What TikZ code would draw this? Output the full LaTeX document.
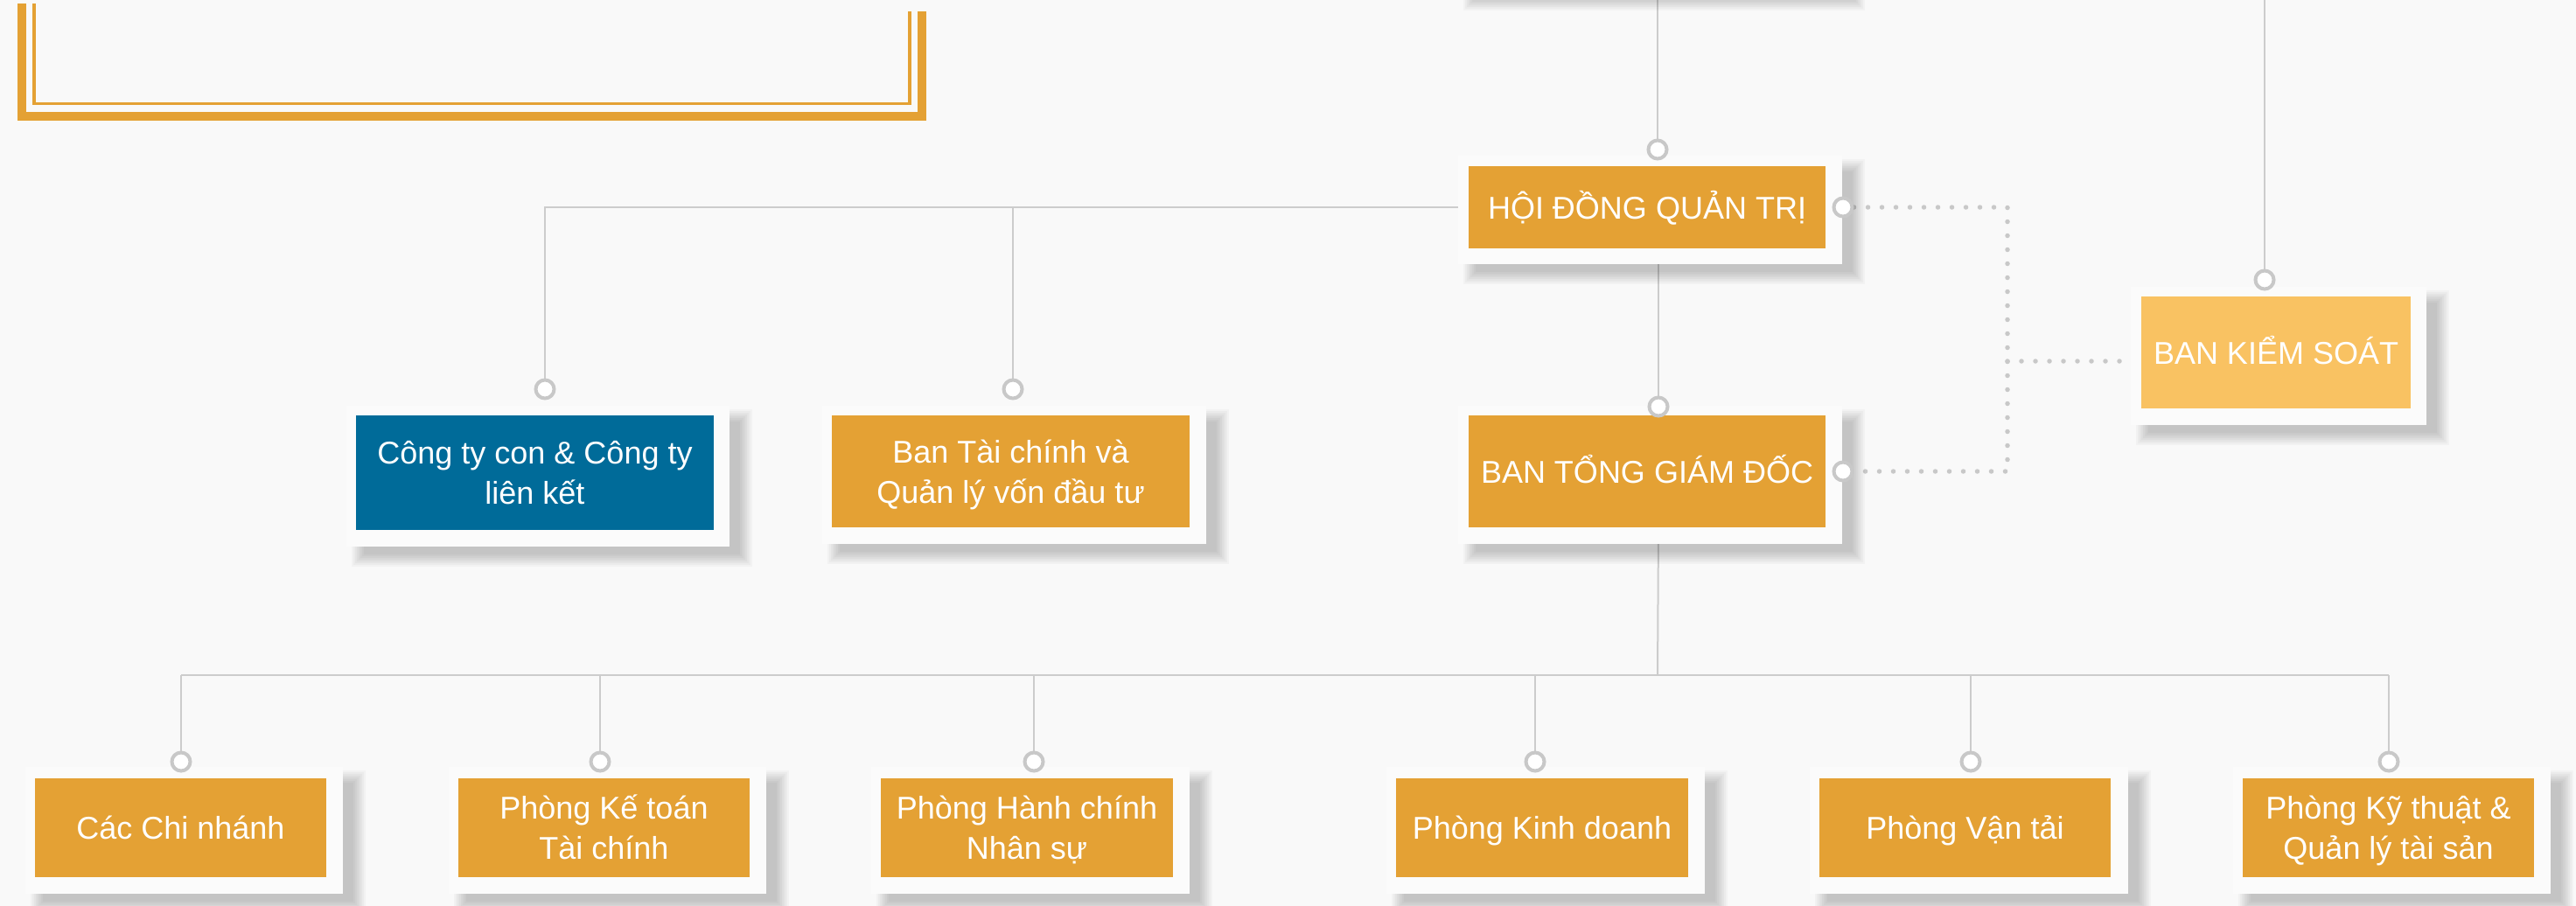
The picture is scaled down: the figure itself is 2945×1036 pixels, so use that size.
\documentclass[tikz,border=0pt]{standalone}
\usepackage{fontspec}
\setmainfont{Liberation Sans}
\definecolor{bgc}{HTML}{F9F9F9}
\definecolor{orng}{HTML}{E4A134}
\definecolor{lorng}{HTML}{F9C262}
\definecolor{blu}{HTML}{006B99}
\definecolor{lnc}{HTML}{CCCCCC}
\definecolor{ringc}{HTML}{C8C8C8}
\definecolor{cardc}{HTML}{FBFBFB}
\pgfdeclarelayer{back}
\pgfdeclarelayer{lines}
\pgfdeclarelayer{cards}
\pgfsetlayers{back,lines,cards,main}
\newcommand{\mycard}[4]{%
  \foreach \k in {0,...,7}{%
    \fill[black,opacity=0.028] ({#1+6+2*\k},{#2+4+2*\k}) rectangle ({#3+26-2*\k},{#4+23-2*\k});
  }%
  \fill[cardc] (#1,#2) rectangle (#3,#4);
}
\begin{document}
\begin{tikzpicture}[x=1pt,y=-1pt,
  conn/.style={draw=lnc, line width=2pt},
  dots/.style={draw=ringc, line width=5.5pt, line cap=round, dash pattern=on 0pt off 16pt},
  ring/.style={circle, draw=ringc, fill=white, line width=4pt, minimum size=21pt, inner sep=0pt},
  box/.style={inner sep=0pt, fill=orng, text=white, align=center,
    font=\fontsize{36}{46}\selectfont, text height=26pt, text depth=0pt},
  box2/.style={box, text height=72pt, text depth=0pt},
  wide/.style={minimum width=408pt},
  narrow/.style={minimum width=333pt, minimum height=113pt}
]
\useasboundingbox (0,0) rectangle (2945,1036);
\begin{pgfonlayer}{back}
\fill[bgc] (0,0) rectangle (2945,1036);
\draw[orng, line width=10pt] (25,4) -- (25,132.5) -- (1054,132.5) -- (1054,13);
\draw[orng, line width=3.5pt] (39,4) -- (39,118.5) -- (1040,118.5) -- (1040,13);
\end{pgfonlayer}
\clip (0,0) rectangle (2945,1036);

% boxes
\node[box, wide, minimum height=94pt] (hdqt) at (1883,237) {HỘI ĐỒNG QUẢN TRỊ};
\node[box, wide, minimum height=128pt] (btgd) at (1883,539) {BAN TỔNG GIÁM ĐỐC};
\node[box, fill=lorng, minimum width=308pt, minimum height=128pt] (bks) at (2602,403) {BAN KIỂM SOÁT};
\node[box2, fill=blu, minimum width=409pt, minimum height=131pt] (cty) at (611.5,540.5) {Công ty con \& Công ty\\liên kết};
\node[box2, minimum width=409pt, minimum height=128pt] (btc) at (1155.5,539) {Ban Tài chính và\\Quản lý vốn đầu tư};
\node[box, narrow] (cn) at (206.5,946.5) {Các Chi nhánh};
\node[box2, narrow] (kt) at (690.5,946.5) {Phòng Kế toán\\Tài chính};
\node[box2, narrow, minimum width=334pt] (hc) at (1174,946.5) {Phòng Hành chính\\Nhân sự};
\node[box, narrow, minimum width=334pt] (kd) at (1763,946.5) {Phòng Kinh doanh};
\node[box, narrow] (vt) at (2246.5,946.5) {Phòng Vận tải};
\node[box2, narrow] (kth) at (2730.5,946.5) {Phòng Kỹ thuật \&\\Quản lý tài sản};

% rings
\node[ring] (r0) at (1895,171) {};
\node[ring] (rks) at (2589,320) {};
\node[ring] (rhR) at (2107,237) {};
\node[ring] (rbR) at (2107,539) {};
\node[ring] (rbt) at (1896,465) {};
\node[ring] (rcty) at (623,445) {};
\node[ring] (rbtc) at (1158,445) {};
\node[ring] (rcn) at (207,871) {};
\node[ring] (rkt) at (686,871) {};
\node[ring] (rhc) at (1182,871) {};
\node[ring] (rkd) at (1755,871) {};
\node[ring] (rvt) at (2253,871) {};
\node[ring] (rkth) at (2731,871) {};

% coordinates
\coordinate (top0) at (1895,-5);
\coordinate (top1) at (2589,-5);
\coordinate (jc) at (623,237);
\coordinate (jb) at (1158,237);
\coordinate (hb) at (1895,772);
\coordinate (dA) at (2295,237);
\coordinate (dM) at (2295,413);
\coordinate (dB) at (2295,539);
\coordinate (dE) at (2431,413);

\begin{pgfonlayer}{lines}
\draw[conn] (top0) -- (r0);
\draw[conn] (top1) -- (rks);
\draw[conn] (hdqt.west) -- (jc) -- (rcty);
\draw[conn] (jb) -- (rbtc);
\draw[conn] (rbt |- hdqt.south) -- (rbt);
\draw[conn] (rbt |- btgd.south) -- (hb);
\draw[conn] (rcn |- hb) -- (rkth |- hb);
\foreach \r in {rcn,rkt,rhc,rkd,rvt,rkth}{\draw[conn] (\r |- hb) -- (\r);}
\draw[dots] (rhR.east) -- (dA) -- (dB) -- (rbR.east);
\draw[dots] (dM) -- (dE);
\end{pgfonlayer}

\begin{pgfonlayer}{cards}
\mycard{1667}{-150}{2106}{-11}
\mycard{1667}{178}{2106}{302}
\mycard{1667}{464}{2106}{622}
\mycard{2436}{328}{2774}{486}
\mycard{396}{464}{834}{625}
\mycard{940}{464}{1379}{622}
\mycard{29}{877}{392}{1022}
\mycard{513}{877}{876}{1022}
\mycard{996}{877}{1360}{1022}
\mycard{1585}{877}{1949}{1022}
\mycard{2069}{877}{2433}{1022}
\mycard{2553}{877}{2916}{1022}
\end{pgfonlayer}
\end{tikzpicture}
\end{document}
